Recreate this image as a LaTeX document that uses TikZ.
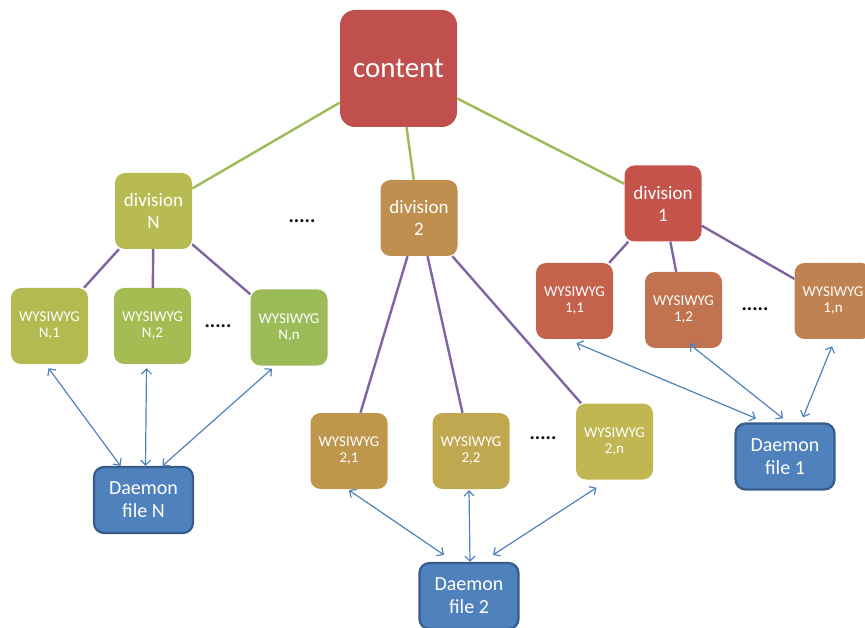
\documentclass[tikz,border=0pt]{standalone}
\usepackage{fontspec}
\setmainfont{Carlito}
\usepackage{tikz}
\usetikzlibrary{positioning}
\usetikzlibrary{arrows.meta}
\definecolor{col-content}{RGB}{192,80,77}
\definecolor{col-divN}{RGB}{183,187,82}
\definecolor{col-div2}{RGB}{191,143,79}
\definecolor{col-div1}{RGB}{196,84,74}
\definecolor{col-wN1}{RGB}{178,186,80}
\definecolor{col-wN2}{RGB}{166,187,82}
\definecolor{col-wNn}{RGB}{155,187,89}
\definecolor{col-w21}{RGB}{190,150,76}
\definecolor{col-w22}{RGB}{192,168,80}
\definecolor{col-w2n}{RGB}{192,182,82}
\definecolor{col-w11}{RGB}{196,98,76}
\definecolor{col-w12}{RGB}{193,114,78}
\definecolor{col-w1n}{RGB}{192,130,80}
\definecolor{col-daemon}{RGB}{79,129,189}
\definecolor{col-daemon-border}{RGB}{56,93,138}
\definecolor{col-green}{RGB}{155,187,89}
\definecolor{col-purple}{RGB}{128,100,162}

\begin{document}
\begin{tikzpicture}[x=1pt, y=-1pt, >={Straight Barb[length=5pt,width=10pt]},
box/.style={rectangle,rounded corners=10pt,minimum width=77pt,minimum height=76pt,inner sep=0pt,
  align=center,text=white,fill=#1,font=\fontsize{15}{16}\selectfont},
divbox/.style={box=#1,font=\fontsize{19}{22}\selectfont},
daemon/.style={rectangle,rounded corners=10pt,minimum width=99pt,minimum height=66pt,inner sep=0pt,
  align=center,text=white,fill=col-daemon,draw=col-daemon-border,line width=2.2pt,font=\fontsize{20}{23}\selectfont},
dots/.style={font=\fontsize{20}{20}\selectfont\bfseries},
tree/.style={line width=2.4pt,draw=#1},
link/.style={<->,draw=col-daemon,line width=1.2pt}]
\useasboundingbox (0,0) rectangle (865,628);

% root
\node [box=col-content,minimum width=117pt,minimum height=117pt,rounded corners=15pt,
  font=\fontsize{29}{32}\selectfont] (content) at (398.5,68.5) {content};

% divisions
\node [divbox=col-divN] (divN) at (153.5,211) {division\\N};
\node [divbox=col-div2] (div2) at (419,218) {division\\2};
\node [divbox=col-div1] (div1) at (663,203.5) {division\\1};
\node [dots] (dotsdiv) at (302,221) {.....};

% wysiwyg N
\node [box=col-wN1] (wN1) at (49.5,326) {WYSIWYG\\N,1};
\node [box=col-wN2] (wN2) at (152.5,326) {WYSIWYG\\N,2};
\node [box=col-wNn] (wNn) at (289,327.5) {WYSIWYG\\N,n};
\node [dots] (dotsN) at (218,326) {.....};

% wysiwyg 2
\node [box=col-w21] (w21) at (349,451) {WYSIWYG\\2,1};
\node [box=col-w22] (w22) at (471,451) {WYSIWYG\\2,2};
\node [box=col-w2n] (w2n) at (614.5,441.5) {WYSIWYG\\2,n};
\node [dots] (dots2) at (543,438) {.....};

% wysiwyg 1
\node [box=col-w11] (w11) at (574.5,301) {WYSIWYG\\1,1};
\node [box=col-w12] (w12) at (683.5,310) {WYSIWYG\\1,2};
\node [box=col-w1n] (w1n) at (833,301) {WYSIWYG\\1,n};
\node [dots] (dots1) at (755,309) {.....};

% daemon files
\node [daemon] (dN) at (143.5,500) {Daemon\\file N};
\node [daemon] (d2) at (469,596) {Daemon\\file 2};
\node [daemon] (d1) at (785,456.5) {Daemon\\file 1};

% tree lines
\draw[tree=col-green] (content) -- (divN);
\draw[tree=col-green] (content) -- (div2);
\draw[tree=col-green] (content) -- (div1);
\draw[tree=col-purple] (divN) -- (wN1);
\draw[tree=col-purple] (divN) -- (wN2);
\draw[tree=col-purple] (divN) -- (wNn);
\draw[tree=col-purple] (div2) -- (w21);
\draw[tree=col-purple] (div2) -- (w22);
\draw[tree=col-purple] (div2) -- (w2n);
\draw[tree=col-purple] (div1) -- (w11);
\draw[tree=col-purple] (div1) -- (w12);
\draw[tree=col-purple] (div1) -- (w1n);

% links to daemon files
\draw[link] ([xshift=-1pt,yshift=-4pt]wN1.south) -- ([xshift=-23pt]dN.north);
\draw[link] ([xshift=-6pt,yshift=-4pt]wN2.south) -- ([xshift=2pt]dN.north);
\draw[link] ([xshift=-17pt,yshift=-3pt]wNn.south) -- ([xshift=19pt]dN.north);
\draw[link] ([yshift=-1pt]w21.south) -- ([xshift=-25pt,yshift=7pt]d2.north);
\draw[link] ([xshift=-2pt,yshift=-1pt]w22.south) -- ([xshift=1pt]d2.north);
\draw[link] ([xshift=-18pt,yshift=-8pt]w2n.south) -- ([xshift=24pt,yshift=7pt]d2.north);
\draw[link] ([xshift=2pt,yshift=-4pt]w11.south) -- ([xshift=-29pt,yshift=4pt]d1.north);
\draw[link] ([xshift=6pt,yshift=4pt]w12.south) -- ([xshift=-2pt,yshift=4pt]d1.north);
\draw[link] ([xshift=-1pt,yshift=-7pt]w1n.south) -- ([xshift=18pt,yshift=5pt]d1.north);
\end{tikzpicture}
\end{document}
